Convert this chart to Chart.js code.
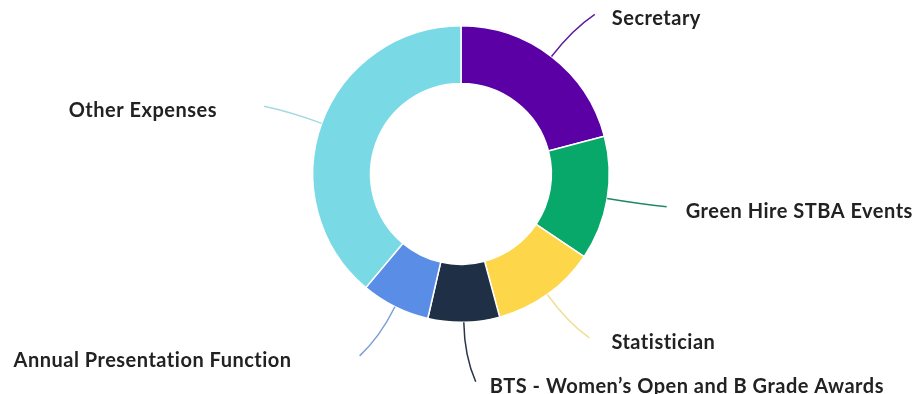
<!DOCTYPE html>
<html lang="en">
  <head>
    <title>Expenses</title>
    <meta charset="utf-8">
    <script type="text/javascript" src="https://cdn.jsdelivr.net/npm/chart.js@4.4.0/dist/chart.umd.min.js"></script>
    <style>
      body { margin: 0; background: #ffffff; }
      canvas { display: block; }
    </style>
  </head>
  <body>
    <canvas id="chart_exp" width="918" height="394"></canvas>

    <script language="javascript" type="text/javascript">

      // Share of expenses (%)
      const categories = [
        "Secretary",
        "Green Hire STBA Events",
        "Statistician",
        "BTS - Women\u2019s Open and B Grade Awards",
        "Annual Presentation Function",
        "Other Expenses"
      ];
      const shares = [20.9, 13.5, 11.4, 7.8, 7.5, 38.9];
      const colours = ["#5b00a5", "#08a76a", "#fdd64a", "#1f2f46", "#5a8ee6", "#79dae6"];
      const lineColours = ["#5e1f9c", "#1e8a62", "#f1df97", "#2a3548", "#7b9fd8", "#a6d9e1"];

      // Draws a curved leader line from the outside of each slice and the label next to it.
      // The end of the line leans a little towards the horizontal, as in the original.
      const leaderLabels = {
        id: "leaderLabels",
        afterDatasetsDraw(chart, args, opts)
        {
          const ctx = chart.ctx;
          const meta = chart.getDatasetMeta(0);
          ctx.save();
          meta.data.forEach((arc, i) => {
            const p = arc.getProps(["x", "y", "startAngle", "endAngle", "outerRadius"], true);
            const mid = (p.startAngle + p.endAngle) / 2;
            const c = Math.cos(mid), s = Math.sin(mid);
            const side = c >= 0 ? 1 : -1;
            const endAngle = mid - side * s * opts.lean;
            const r0 = p.outerRadius;
            const x0 = p.x + c * r0, y0 = p.y + s * r0;
            const x1 = p.x + c * (r0 + opts.bend), y1 = p.y + s * (r0 + opts.bend);
            const x2 = p.x + Math.cos(endAngle) * (r0 + opts.length);
            const y2 = p.y + Math.sin(endAngle) * (r0 + opts.length);

            ctx.beginPath();
            ctx.moveTo(x0, y0);
            ctx.quadraticCurveTo(x1, y1, x2, y2);
            ctx.strokeStyle = lineColours[i];
            ctx.lineWidth = 1.5;
            ctx.stroke();

            ctx.font = opts.font;
            ctx.letterSpacing = opts.spacing;
            ctx.fillStyle = opts.color;
            ctx.textBaseline = "alphabetic";
            ctx.textAlign = side > 0 ? "left" : "right";
            ctx.fillText(chart.data.labels[i], x2 + side * opts.gaps[i], y2 + opts.drop);
          });
          ctx.restore();
        }
      };

      chart_exp = new Chart("chart_exp", {
        type: "doughnut",
        data: {
          labels: categories,
          datasets: [
            {
              data: shares,
              backgroundColor: colours,
              borderColor: "#ffffff",
              borderWidth: 1.5
            }
          ]
        },
        options: {
          responsive: false,
          animation: false,
          cutout: "61%",
          layout: { padding: { top: 25, bottom: 71, left: 4, right: 0 } },
          plugins: {
            legend: { display: false },
            tooltip: { enabled: false },
            leaderLabels: {
              bend: 34,
              length: 60,
              lean: 0.052,
              drop: 11,
              gaps: [17, 19, 22, 14, 68, 47],
              font: "bold 20px Lato",
              spacing: "0.5px",
              color: "#222222"
            }
          }
        },
        plugins: [leaderLabels]
      });

    </script>
  </body>
</html>
